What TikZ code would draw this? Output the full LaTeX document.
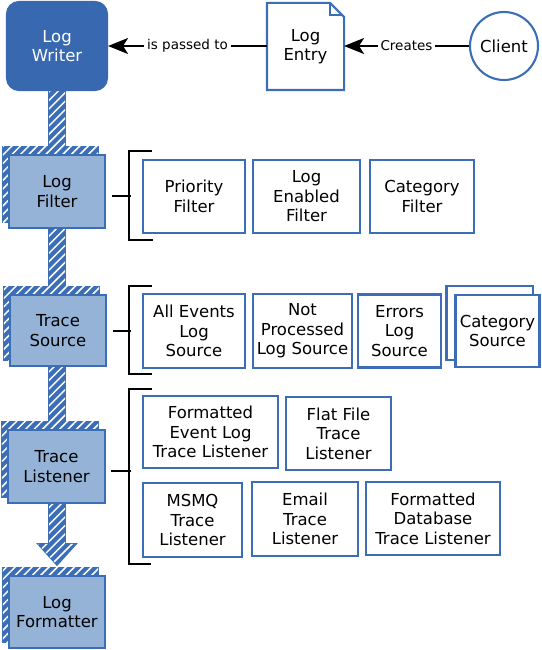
\documentclass[tikz,border=0pt]{standalone}
\usepackage{fontspec}
\setmainfont{DejaVu Sans}
\usepackage{tikz}
\usetikzlibrary{arrows.meta,shapes,patterns.meta,backgrounds}
\usepackage{xcolor}
\definecolor{lgblue}{RGB}{59,110,183}
\definecolor{lgdark}{RGB}{56,105,176}
\definecolor{lglight}{RGB}{149,179,215}
\newcommand{\boxfont}{\fontsize{16.5}{19.5}\selectfont}
\newcommand{\flowfont}{\fontsize{13.5}{15}\selectfont}
\tikzstyle{arrow} = [line width=2.2pt,-{Stealth[length=20pt,width=16pt,inset=5pt]},color=black]
\tikzstyle{member} = [draw=lgblue, line width=2.1pt, fill=white, align=center, inner sep=0pt, font=\boxfont]
\tikzstyle{stage} = [member, fill=lglight]
\tikzstyle{hatched} = [draw=lgblue, line width=1.6pt, fill=lgblue, postaction={pattern={Lines[angle=45,distance=6pt,line width=1.5pt]}, pattern color=white}]
\tikzstyle{bracket} = [line width=2pt, color=black]
\tikzstyle{flowlabel} = [fill=white, font=\flowfont, inner sep=3pt]

\begin{document}
\begin{tikzpicture}[x=1pt, y=-1pt]
\useasboundingbox (0,0) rectangle (541,650);

% Top row
\node[stage, draw=lgdark, fill=lgdark, text=white, rounded corners=12pt, minimum width=100pt, minimum height=88pt] (writer) at (57,46) {Log\\Writer};
\node[member, draw=none, fill=none, minimum width=75pt, minimum height=85pt] (entry) at (305.5,46.5) {Log\\Entry};
\draw[member, fill=none] (entry.south west) -- (entry.north west) -- ([xshift=-14pt]entry.north east) -- ([yshift=-14pt]entry.north east) -- (entry.south east) -- cycle;
\draw[member, fill=none, line width=1.4pt] ([xshift=-14pt]entry.north east) -- ++(0,12) -- ++(13,0);
\node[member, circle, minimum size=68pt] (client) at (504,46) {Client};

% Arrows
\draw[arrow] (client.west) -- node[flowlabel] {Creates} (entry.east |- client.west);
\draw[arrow] (entry.west |- writer.east) -- node[flowlabel] {is passed to} (writer.east);

% Stages
\node[stage, minimum width=96pt, minimum height=73pt] (filter) at (57,191.5) {Log\\Filter};
\node[stage, minimum width=96pt, minimum height=71pt] (source) at (58,330.5) {Trace\\Source};
\node[stage, minimum width=97pt, minimum height=73pt] (listener) at (56.5,466.5) {Trace\\Listener};
\node[stage, minimum width=96pt, minimum height=72pt] (formatter) at (57,612) {Log\\Formatter};

% Filters
\node[member, minimum width=102pt, minimum height=73pt] (prio) at (194,196.5) {Priority\\Filter};
\node[member, minimum width=107pt, minimum height=73pt] (enabled) at (306.5,196.5) {Log\\Enabled\\Filter};
\node[member, minimum width=104pt, minimum height=73pt] (catfilter) at (422,196.5) {Category\\Filter};
\draw[bracket] ([xshift=10pt,yshift=8pt]prio.north west) -| ([xshift=-13pt,yshift=-6pt]prio.south west) -- ++(24,0);
\draw[bracket] ([xshift=6pt,yshift=-4pt]filter.east) -- ++(19,0);

% Sources
\node[member, minimum width=102pt, minimum height=74pt] (allevents) at (194,331) {All Events\\Log\\Source};
\node[member, minimum width=99pt, minimum height=74pt] (notproc) at (302.5,331) {Not\\Processed\\Log Source};
\node[member, minimum width=83pt, minimum height=73pt] (errors) at (399.5,331) {Errors\\Log\\Source};
\node[member, minimum width=84pt, minimum height=72pt] (catsrc) at (497.5,331) {Category\\Source};
\draw[bracket] ([xshift=10pt,yshift=7pt]allevents.north west) -| ([xshift=-13pt,yshift=-5pt]allevents.south west) -- ++(23,0);
\draw[bracket] ([xshift=6pt]source.east) -- ++(18,0);

% Listeners
\node[member, minimum width=135pt, minimum height=72pt] (fmtevent) at (210.5,432) {Formatted\\Event Log\\Trace Listener};
\node[member, minimum width=105pt, minimum height=73pt] (flatfile) at (338.5,433.5) {Flat File\\Trace\\Listener};
\node[member, minimum width=99pt, minimum height=74pt] (msmq) at (192.5,520) {MSMQ\\Trace\\Listener};
\node[member, minimum width=106pt, minimum height=74pt] (email) at (305,519) {Email\\Trace\\Listener};
\node[member, minimum width=134pt, minimum height=73pt] (fmtdb) at (433,518.5) {Formatted\\Database\\Trace Listener};
\draw[bracket] ([xshift=10pt,yshift=6pt]fmtevent.north west) -| ([xshift=-13pt,yshift=-6pt]msmq.south west) -- ++(22,0);
\draw[bracket] ([xshift=5pt,yshift=-4.5pt]listener.east) -- ++(20,0);

% Pipe and stacked boxes behind
\begin{scope}[on background layer]
\coordinate (pipeend) at ([yshift=31pt]formatter.north);
\draw[hatched] ([xshift=-8pt]writer.south) -- ([xshift=-8pt]pipeend) -- ([xshift=-19pt]pipeend) -- ([yshift=10pt]formatter.north) -- ([xshift=19pt]pipeend) -- ([xshift=8pt]pipeend) -- ([xshift=8pt]writer.south) -- cycle;
\foreach \s in {filter,source,listener,formatter}
  \draw[hatched] ([xshift=-5pt,yshift=7pt]\s.south west) rectangle ([xshift=-8pt,yshift=7pt]\s.north east);
\draw[member] ([xshift=-8pt,yshift=8pt]catsrc.south west) rectangle ([xshift=-8pt,yshift=8pt]catsrc.north east);
\end{scope}
\end{tikzpicture}
\end{document}
